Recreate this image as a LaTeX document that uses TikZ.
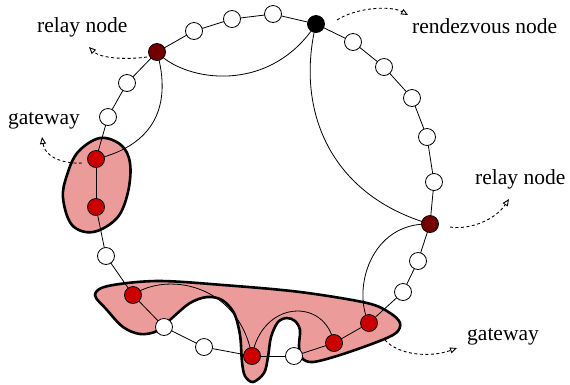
\documentclass[tikz,border=0pt]{standalone}
\usepackage{fontspec}
\setmainfont{Liberation Serif}
\usetikzlibrary{arrows.meta,patterns}
\definecolor{blobpink}{RGB}{236,155,155}
\definecolor{gwred}{RGB}{204,0,0}
\definecolor{relayred}{RGB}{122,0,0}
\pgfdeclarelayer{blobs}
\pgfdeclarelayer{edges}
\pgfsetlayers{blobs,edges,main}
\tikzset{
  ringedge/.style={line width=0.8pt},
  chord/.style={line width=0.8pt},
  blob/.style={fill=blobpink, draw=black, line width=2.6pt},
  plain/.style={circle, draw=black, line width=0.8pt, fill=white, minimum size=17pt, inner sep=0pt},
  gw/.style={plain, fill=gwred},
  relay/.style={plain, fill=relayred, postaction={pattern=crosshatch dots, pattern color=relayred!70!black}},
  rdv/.style={plain, fill=black},
  lbl/.style={font=\fontsize{21.5}{25}\selectfont, inner sep=0pt, anchor=base west},
  pointer/.style={line width=0.9pt, dash pattern=on 3pt off 2.5pt, -{Triangle[open, length=7pt, width=6pt, line width=0.9pt]}}
}
\begin{document}
\begin{tikzpicture}[x=1pt,y=-1pt]
\useasboundingbox (0,0) rectangle (570,384);

% gateway regions
\begin{pgfonlayer}{blobs}
\draw[blob] plot[smooth cycle, tension=0.6] coordinates {(100,138) (121,145) (130,163) (128,192) (117,218) (93,232) (72,225) (63,198) (67,175) (78,152)};
\draw[blob] plot[smooth cycle, tension=0.55] coordinates {(95,295) (108,286) (157,281) (223,285) (300,292) (367,303) (390,313) (400,323) (396,333) (377,342) (340,355) (313,362) (302,358) (299,346) (300,330) (295,321) (287,318) (278,322) (271,337) (268,357) (264,373) (253,382) (245,376) (242,362) (240,335) (234,313) (222,300) (207,297) (190,303) (172,318) (157,331) (140,334) (123,327) (107,310)};
\end{pgfonlayer}

% nodes
\node[rdv] (r) at (316,24) {};
\node[plain] (a1) at (353,42) {};
\node[plain] (a2) at (384,67) {};
\node[plain] (a3) at (412,98) {};
\node[plain] (a4) at (427,137) {};
\node[plain] (a5) at (434,182) {};
\node[relay] (s2) at (430,224) {};
\node[plain] (a6) at (418,261) {};
\node[plain] (a7) at (403,292) {};
\node[gw] (g1) at (369,323) {};
\node[gw] (g2) at (334,343) {};
\node[plain] (a8) at (294,356) {};
\node[gw] (g3) at (252,356) {};
\node[plain] (a9) at (204,347) {};
\node[plain] (a10) at (164,327) {};
\node[gw] (g4) at (133,295) {};
\node[plain] (a11) at (106,256) {};
\node[gw] (g5) at (96,207) {};
\node[gw] (g6) at (96,159) {};
\node[plain] (a12) at (108,117) {};
\node[plain] (a13) at (127,83) {};
\node[relay] (s1) at (157,52) {};
\node[plain] (a14) at (194,31) {};
\node[plain] (a15) at (232,19) {};
\node[plain] (a16) at (273,14) {};

% ring and chords
\begin{pgfonlayer}{edges}
\foreach \u/\v in {r/a1,a1/a2,a2/a3,a3/a4,a4/a5,a5/s2,s2/a6,a6/a7,a7/g1,g1/g2,g2/a8,a8/g3,g3/a9,a9/a10,a10/g4,g4/a11,a11/g5,g5/g6,g6/a12,a12/a13,a13/s1,s1/a14,a14/a15,a15/a16,a16/r}
  \draw[ringedge] (\u.center) -- (\v.center);
\draw[chord] (s1.center) .. controls (185,82) and (270,95) .. (r.center);
\draw[chord] (s1.center) .. controls (172,105) and (155,145) .. (g6.center);
\draw[chord] (r.center) .. controls (295,110) and (330,195) .. (s2.center);
\draw[chord] (s2.center) .. controls (370,222) and (352,290) .. (g1.center);
\draw[chord] (g4.center) .. controls (165,272) and (238,282) .. (g3.center);
\draw[chord] (g3.center) .. controls (262,300) and (325,297) .. (g2.center);
\end{pgfonlayer}

% labels
\node[lbl] (t1) at (37,32) {relay node};
\node[lbl] (t2) at (412,33) {rendezvous node};
\node[lbl] (t3) at (8,124) {gateway};
\node[lbl] (t4) at (475,184) {relay node};
\node[lbl] (t5) at (467,340) {gateway};

% pointers
\coordinate (p1) at (147,57);
\coordinate (q1) at (89,47);
\coordinate (p2) at (82,163);
\coordinate (q2) at (42,137);
\coordinate (p3) at (337,20);
\coordinate (q3) at (408,15);
\coordinate (p4) at (450,227);
\coordinate (q4) at (509,199);
\coordinate (p5) at (385,340);
\coordinate (q5) at (457,348);
\draw[pointer] (p1) .. controls (125,60) and (100,58) .. (q1);
\draw[pointer] (p2) .. controls (65,164) and (45,158) .. (q2);
\draw[pointer] (p3) .. controls (355,8) and (390,5) .. (q3);
\draw[pointer] (p4) .. controls (470,230) and (495,220) .. (q4);
\draw[pointer] (p5) .. controls (398,355) and (430,358) .. (q5);
\end{tikzpicture}
\end{document}
